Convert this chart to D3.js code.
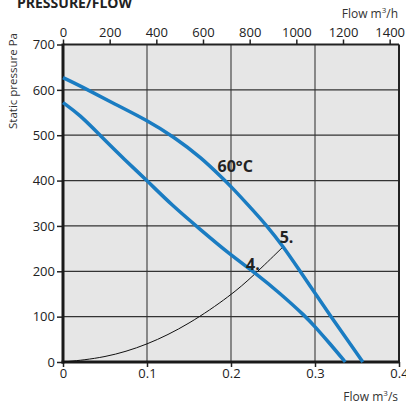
<!DOCTYPE html>
<html>
<head>
<meta charset="utf-8">
<script src="https://cdn.jsdelivr.net/npm/d3@7"></script>
<style>
  body { margin: 0; background: #fff; }
  text { font-family: "Open Sans", sans-serif; fill: #222; }
</style>
</head>
<body>
<div id="wrap"></div>
<script>
// data (flow m3/s, static pressure Pa)
var curve5 = [[0,627],[0.03,600],[0.06,570],[0.1,533],[0.133,495],[0.165,450],[0.19,405],[0.2,387],[0.22,347],[0.243,300],[0.262,255],[0.2805,205],[0.3,152],[0.319,100],[0.338,50],[0.357,0]];
var curve4 = [[0,572],[0.02,545],[0.044,500],[0.074,445],[0.1,400],[0.13,345],[0.163,293],[0.198,238],[0.23,195],[0.258,152],[0.289,100],[0.3,78],[0.318,40],[0.336,0]];
var system = [[0,0],[0.05,9],[0.1,37],[0.15,83],[0.2,147],[0.226,189],[0.262,254]];
var flowTicks = [0,0.1,0.2,0.3,0.4];
var flowHTicks = [0,200,400,600,800,1000,1200,1400];
var pressTicks = [0,100,200,300,400,500,600,700];

var margin = {top: 44.5, right: 7, bottom: 45, left: 63},
    W = 406, H = 407,
    width = W - margin.left - margin.right,
    height = H - margin.top - margin.bottom;

var svg = d3.select('#wrap').append('svg')
    .attr('width', W).attr('height', H);

var g = svg.append('g')
    .attr('transform', 'translate(' + margin.left + ',' + margin.top + ')');

var x = d3.scaleLinear().domain([0, 0.4]).range([0, width]),
    xh = d3.scaleLinear().domain([0, 0.4 * 3600]).range([0, width]),
    y = d3.scaleLinear().domain([0, 700]).range([height, 0]);

g.append('rect').attr('width', width).attr('height', height).style('fill', '#e6e6e6');

//grid
g.selectAll('.vgrid').data(flowTicks.slice(1, -1)).enter().append('line')
  .attr('x1', function(d){ return x(d); }).attr('x2', function(d){ return x(d); })
  .attr('y1', 0).attr('y2', height)
  .style('stroke', '#555').style('stroke-width', 1.3);
g.selectAll('.hgrid').data(pressTicks.slice(1, -1)).enter().append('line')
  .attr('y1', function(d){ return y(d); }).attr('y2', function(d){ return y(d); })
  .attr('x1', 0).attr('x2', width)
  .style('stroke', '#333').style('stroke-width', 1.3);

//frame
g.append('line').attr('x1', width).attr('x2', width).attr('y1', 0).attr('y2', height)
  .style('stroke', '#222').style('stroke-width', 2);
g.append('line').attr('x1', 0).attr('x2', width).attr('y1', 0).attr('y2', 0)
  .style('stroke', '#222').style('stroke-width', 2);

//axes
var axisBottom = g.append('g').attr('transform', 'translate(0,' + height + ')')
  .call(d3.axisBottom(x).tickValues(flowTicks).tickSize(5).tickPadding(2)
        .tickFormat(function(d){ return d === 0 ? '0' : d3.format('.1f')(d); }));
var axisTop = g.append('g')
  .call(d3.axisTop(xh).tickValues(flowHTicks).tickSize(5).tickPadding(3).tickFormat(d3.format('d')));
var axisLeft = g.append('g')
  .call(d3.axisLeft(y).tickValues(pressTicks).tickSize(6).tickPadding(2));

[axisBottom, axisTop, axisLeft].forEach(function(a){
  a.select('.domain').remove();
  a.selectAll('line').style('stroke', '#222').style('stroke-width', 1.5);
  a.selectAll('text').style('font-size', '13px').style('fill', '#222');
});

g.append('line').attr('x1', 0).attr('x2', 0).attr('y1', -1).attr('y2', height + 1.5)
  .style('stroke', '#1a1a1a').style('stroke-width', 3);
g.append('line').attr('x1', -1.5).attr('x2', width + 1).attr('y1', height).attr('y2', height)
  .style('stroke', '#1a1a1a').style('stroke-width', 3);

//curves
var line = d3.line()
  .x(function(d){ return x(d[0]); })
  .y(function(d){ return y(d[1]); })
  .curve(d3.curveBasis);

g.append('path').datum(system).attr('d', line)
  .style('fill', 'none').style('stroke', '#111').style('stroke-width', 1);

[curve4, curve5].forEach(function(c){
  g.append('path').datum(c).attr('d', line)
    .style('fill', 'none').style('stroke', '#1a7cc2').style('stroke-width', 3.5);
});

//labels
g.append('text').attr('x', x(0.184)).attr('y', y(418)).text('60°C')
  .style('font-size', '16px').style('font-weight', 'bold');
g.append('text').attr('x', x(0.258)).attr('y', y(262)).text('5.')
  .style('font-size', '16px').style('font-weight', 'bold');
g.append('text').attr('x', x(0.218)).attr('y', y(202)).text('4.')
  .style('font-size', '16px').style('font-weight', 'bold');

svg.append('text').attr('x', 17).attr('y', 8).text('PRESSURE/FLOW')
  .style('font-size', '14px').style('font-weight', 'bold');

var unitH = svg.append('text').attr('x', 398).attr('y', 18).attr('text-anchor', 'end')
  .style('font-size', '12px').style('fill', '#333');
unitH.append('tspan').text('Flow m');
unitH.append('tspan').text('3').attr('dy', -5).style('font-size', '8px');
unitH.append('tspan').text('/h').attr('dy', 5);

var unitS = svg.append('text').attr('x', 398).attr('y', 401).attr('text-anchor', 'end')
  .style('font-size', '12px').style('fill', '#333');
unitS.append('tspan').text('Flow m');
unitS.append('tspan').text('3').attr('dy', -5).style('font-size', '8px');
unitS.append('tspan').text('/s').attr('dy', 5);

svg.append('text')
  .attr('transform', 'translate(17,81) rotate(-90)')
  .attr('text-anchor', 'middle')
  .text('Static pressure Pa')
  .style('font-size', '11.5px').style('fill', '#333');
</script>
</body>
</html>
